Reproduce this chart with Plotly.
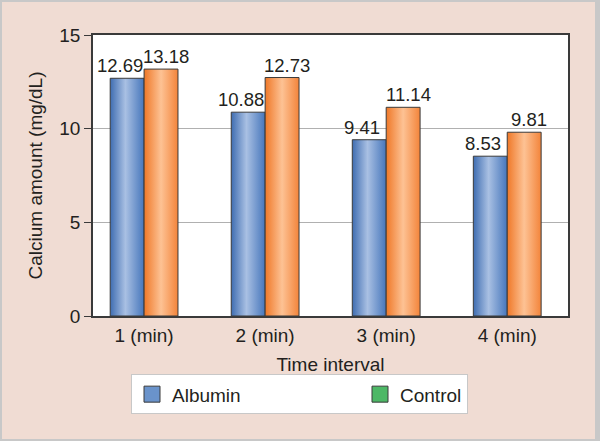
import plotly.graph_objects as go

categories = ["1 (min)", "2 (min)", "3 (min)", "4 (min)"]
albumin = [12.69, 10.88, 9.41, 8.53]
control = [13.18, 12.73, 11.14, 9.81]
y_ticks = [0, 5, 10, 15]

W, H = 600, 441
ML, MR, MT, MB = 93, 32, 35, 125
PW, PH = W - ML - MR, H - MT - MB


def px(xp):
    return (xp - ML) / PW


def py(yp):
    return (H - MB - yp) / PH


FONT = "Liberation Sans, Arial, sans-serif"
TXT = "#231f20"
BLUE = "#6a93cb"
ORANGE = "#f69a55"
EDGE = "#3a3a3a"
xpos = list(range(1, len(categories) + 1))

fig = go.Figure()
fig.add_trace(go.Bar(
    x=xpos, y=albumin, name="Albumin", showlegend=False,
    marker=dict(color=BLUE, line=dict(color=EDGE, width=1)),
))
fig.add_trace(go.Bar(
    x=xpos, y=control, name="Control", showlegend=False,
    marker=dict(color=ORANGE, line=dict(color=EDGE, width=1)),
))
# legend entries (the reference's legend shows Control with a green swatch)
fig.add_trace(go.Scatter(
    x=[None], y=[None], mode="markers", name="Albumin",
    marker=dict(symbol="square", size=16, color=BLUE, line=dict(color=EDGE, width=1)),
    legendwidth=183,
))
fig.add_trace(go.Scatter(
    x=[None], y=[None], mode="markers", name="Control",
    marker=dict(symbol="square", size=16, color="#4db866", line=dict(color=EDGE, width=1)),
))

# value labels above the bars (albumin nudged left, control right, as in the reference)
annotations = []
for xi, v in zip(xpos, albumin):
    annotations.append(dict(x=xi, y=v, text=f"{v:.2f}", showarrow=False,
                            xanchor="center", yanchor="bottom", xshift=-24, yshift=0,
                            font=dict(size=18.5, color=TXT, family=FONT)))
for xi, v in zip(xpos, control):
    annotations.append(dict(x=xi, y=v, text=f"{v:.2f}", showarrow=False,
                            xanchor="center", yanchor="bottom", xshift=22, yshift=0,
                            font=dict(size=18.5, color=TXT, family=FONT)))

shapes = []
gray = "#c8c8c8"
for x0, x1, y0, y1 in [(0, 2, 0, H), (W - 5, W, 0, H), (0, W, 0, 2), (0, W, H - 2, H)]:
    shapes.append(dict(type="rect", xref="paper", yref="paper",
                       x0=px(x0), x1=px(x1), y0=py(y0), y1=py(y1),
                       fillcolor=gray, line=dict(width=0), layer="below"))

fig.update_layout(
    width=W, height=H,
    margin=dict(l=ML, r=MR, t=MT, b=MB),
    paper_bgcolor="#f0dcd3", plot_bgcolor="white",
    font=dict(family=FONT, size=19, color=TXT),
    barmode="group", bargap=0.44, bargroupgap=0,
    shapes=shapes, annotations=annotations,
    legend=dict(orientation="h", x=px(131), y=py(394.3), xanchor="left", yanchor="middle",
                bgcolor="white", bordercolor="#c8c8c8", borderwidth=1,
                font=dict(size=19, color=TXT, family=FONT), itemwidth=30,
                traceorder="normal"),
    xaxis=dict(range=[0.578, 4.502], tickvals=xpos, ticktext=categories,
               showgrid=False, zeroline=False, showline=True, linecolor=EDGE,
               linewidth=1.5, mirror=True, ticks="outside", ticklen=1,
               tickcolor="rgba(0,0,0,0)", tickfont=dict(size=19),
               title=dict(text="Time interval", font=dict(size=19), standoff=13)),
    yaxis=dict(range=[0, 15], tickvals=y_ticks, showgrid=True, gridcolor="#b0b0b0",
               gridwidth=1, zeroline=False, showline=True, linecolor=EDGE,
               linewidth=1.5, mirror=True, ticks="outside", ticklen=7,
               tickcolor=EDGE, tickfont=dict(size=19),
               title=dict(text="Calcium amount (mg/dL)", font=dict(size=19), standoff=12)),
)

post = """
document.body.style.margin = '0';
var gd = document.getElementById('{plot_id}');
var svg = gd.querySelector('svg.main-svg');
var NS = 'http://www.w3.org/2000/svg';
var defs = svg.querySelector('defs') || svg.insertBefore(document.createElementNS(NS, 'defs'), svg.firstChild);
function grad(id, stops) {
  var g = document.createElementNS(NS, 'linearGradient');
  g.setAttribute('id', id); g.setAttribute('x1', '0'); g.setAttribute('x2', '1');
  g.setAttribute('y1', '0'); g.setAttribute('y2', '0');
  stops.forEach(function(s) {
    var st = document.createElementNS(NS, 'stop');
    st.setAttribute('offset', s[0]); st.setAttribute('stop-color', s[1]);
    g.appendChild(st);
  });
  defs.appendChild(g);
}
grad('gBlue', [['0', '#3f6db1'], ['0.45', '#a9c0e3'], ['1', '#4676bb']]);
grad('gOrange', [['0', '#ef7828'], ['0.5', '#fdc294'], ['1', '#f3843a']]);
var traces = gd.querySelectorAll('.barlayer .trace');
var ids = ['gBlue', 'gOrange'];
traces.forEach(function(t, i) {
  t.querySelectorAll('path').forEach(function(p) { p.style.fill = 'url(#' + ids[i] + ')'; });
});
var leg = gd.querySelectorAll('.legend .traces .scatterpts path');
if (leg.length) { leg[0].style.fill = 'url(#gBlue)'; }
"""

fig.write_html("out.html", post_script=post, config={"displayModeBar": False})
